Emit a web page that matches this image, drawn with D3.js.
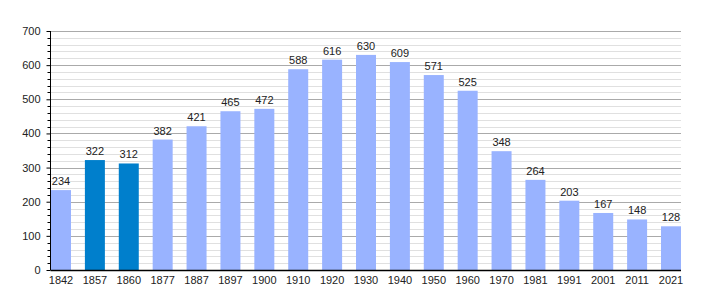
<!DOCTYPE html>
<html>
<head>
<meta charset="utf-8">
<script src="https://cdn.jsdelivr.net/npm/d3@7"></script>
<style>
  body { margin: 0; background: #fff; }
  svg text { font-family: "Liberation Sans", Arial, sans-serif; font-size: 11px; fill: #222; }
</style>
</head>
<body>
<div id="container"></div>
<script>
// Population by census year
const years = ["1842", "1857", "1860", "1877", "1887", "1897", "1900", "1910", "1920", "1930",
  "1940", "1950", "1960", "1970", "1981", "1991", "2001", "2011", "2021"];
const population = [234, 322, 312, 382, 421, 465, 472, 588, 616, 630,
  609, 571, 525, 348, 264, 203, 167, 148, 128];
const highlighted = ["1857", "1860"];
const yTicks = [0, 100, 200, 300, 400, 500, 600, 700];

const width = 710, height = 300;
const mLeft = 50.5, mRight = 681, mTop = 31, mBottom = 270;

const svg = d3.select("#container")
  .append("svg")
  .attr("width", width)
  .attr("height", height);

const x = d3.scaleBand()
  .domain(years)
  .range([mLeft + 0.5, mRight])
  .paddingInner(0.41)
  .paddingOuter(0)
  .align(0);

const y = d3.scaleLinear()
  .domain([0, 700])
  .range([mBottom, mTop]);

// minor grid every 20
const minor = d3.range(0, 701, 20).filter(v => v % 100 !== 0);
svg.append("g")
  .selectAll("line")
  .data(minor)
  .enter().append("line")
  .attr("x1", mLeft).attr("x2", mRight)
  .attr("y1", d => Math.round(y(d)) + 0.5)
  .attr("y2", d => Math.round(y(d)) + 0.5)
  .attr("stroke", "#e0e0e0");

// major grid
svg.append("g")
  .selectAll("line")
  .data(yTicks.filter(d => d > 0))
  .enter().append("line")
  .attr("x1", mLeft).attr("x2", mRight)
  .attr("y1", d => Math.round(y(d)) + 0.5)
  .attr("y2", d => Math.round(y(d)) + 0.5)
  .attr("stroke", "#aaaaaa");

// bars
svg.append("g")
  .selectAll("rect")
  .data(years)
  .enter().append("rect")
  .attr("x", d => x(d))
  .attr("width", x.bandwidth())
  .attr("y", (d, i) => y(population[i]))
  .attr("height", (d, i) => mBottom - y(population[i]))
  .attr("fill", d => highlighted.includes(d) ? "#007fcc" : "#99b3ff");

// value labels
svg.append("g")
  .selectAll("text")
  .data(years)
  .enter().append("text")
  .attr("x", d => x(d) + x.bandwidth() / 2)
  .attr("y", (d, i) => y(population[i]) - 5)
  .attr("text-anchor", "middle")
  .text((d, i) => population[i]);

// y axis
const yAxis = svg.append("g")
  .attr("transform", `translate(${mLeft},0)`)
  .call(d3.axisLeft(y).tickValues(yTicks).tickSize(4).tickPadding(6));
yAxis.select(".domain").attr("d", `M0,${mTop}V${mBottom}`).attr("stroke", "#000");
yAxis.selectAll(".tick line").attr("stroke", "#000");
yAxis.selectAll("text").style("font-size", "11px").attr("fill", "#222");

// minor ticks on y axis
svg.append("g")
  .selectAll("line")
  .data(minor)
  .enter().append("line")
  .attr("x1", mLeft - 3).attr("x2", mLeft)
  .attr("y1", d => Math.round(y(d)) + 0.5)
  .attr("y2", d => Math.round(y(d)) + 0.5)
  .attr("stroke", "#000");

// x axis
const xAxis = svg.append("g")
  .attr("transform", `translate(0,${mBottom})`)
  .call(d3.axisBottom(x).tickSize(0).tickPadding(6));
xAxis.select(".domain").attr("d", `M${mLeft},0.5H${mRight}`).attr("stroke", "#000").attr("stroke-width", 1.5);
xAxis.selectAll("text").style("font-size", "11px").attr("fill", "#222");
</script>
</body>
</html>
